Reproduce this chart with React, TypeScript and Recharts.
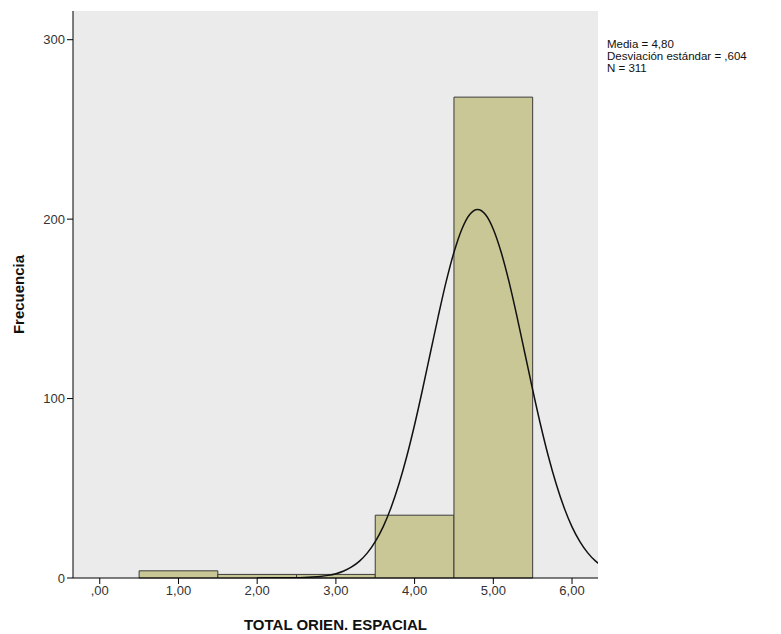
import { ComposedChart, Line, XAxis, YAxis, ReferenceArea, CartesianGrid, Label } from "recharts";

// histogram bins (centre of each bin, width 1)
const binCenters = [1, 2, 3, 4, 5];
const binCounts = [4, 2, 2, 35, 268];

// normal curve
const curveX = [
  2.0, 2.5, 2.6, 2.7, 2.8, 2.9, 3.0, 3.1, 3.2, 3.3, 3.4, 3.5, 3.6, 3.7, 3.8, 3.9, 4.0, 4.1, 4.2, 4.3, 4.4, 4.5,
  4.6, 4.7, 4.8, 4.9, 5.0, 5.1, 5.2, 5.3, 5.4, 5.5, 5.6, 5.7, 5.8, 5.9, 6.0, 6.1, 6.2, 6.3, 6.34,
];
const curveY = [
  0, 0.15, 0.27, 0.49, 0.85, 1.46, 2.42, 3.91, 6.15, 9.4, 14.0, 20.3, 28.5, 39.1, 52.2, 67.7, 85.4, 104.9, 125.4,
  145.8, 165.0, 181.5, 194.4, 202.6, 205.4, 202.6, 194.4, 181.5, 165.0, 145.8, 125.4, 104.9, 85.4, 67.7, 52.2, 39.1,
  28.5, 20.3, 14.0, 9.4, 8.0,
];

const xTicks = [0, 1, 2, 3, 4, 5, 6];
const yTicks = [0, 100, 200, 300];
const statsLines = ["Media = 4,80", "Desviación estándar = ,604", "N = 311"];

const curveData = curveX.map((x, i) => ({ x, y: curveY[i] }));

const FONT = "'Liberation Sans', Arial, sans-serif";
const fmtX = (v: number) => (v === 0 ? ",00" : v.toFixed(2).replace(".", ","));

export default function App() {
  return (
    <div style={{ position: "absolute", left: 0, top: 0, width: 781, height: 634, background: "#fff", fontFamily: FONT }}>
      <ComposedChart width={781} height={634} data={curveData} margin={{ top: 11, right: 183, bottom: 0, left: 0 }}>
        <CartesianGrid horizontal={false} vertical={false} fill="#ebebeb" />
        <XAxis
          dataKey="x"
          type="number"
          domain={[-0.34, 6.33]}
          ticks={xTicks}
          tickFormatter={fmtX}
          allowDataOverflow
          height={56}
          stroke="#000"
          tickSize={6}
          tick={{ fill: "#333", fontSize: 13, fontFamily: FONT }}
        >
          <Label
            value="TOTAL ORIEN. ESPACIAL"
            position="insideBottom"
            offset={4}
            style={{ fontWeight: "bold", fontSize: 15, fill: "#111", fontFamily: FONT }}
          />
        </XAxis>
        <XAxis xAxisId="top" orientation="top" type="number" domain={[-0.34, 6.33]} height={0} tick={false} tickLine={false} stroke="#999" />
        <YAxis
          type="number"
          domain={[0, 316]}
          ticks={yTicks}
          allowDataOverflow
          width={73}
          stroke="#000"
          tickSize={6}
          tick={{ fill: "#333", fontSize: 13, fontFamily: FONT }}
        >
          <Label
            value="Frecuencia"
            angle={-90}
            position="center"
            dx={-18}
            style={{ fontWeight: "bold", fontSize: 15, fill: "#111", fontFamily: FONT, textAnchor: "middle" }}
          />
        </YAxis>
        <YAxis yAxisId="right" orientation="right" domain={[0, 316]} width={0} tick={false} tickLine={false} stroke="#444" />
        {binCenters.map((c, i) => (
          <ReferenceArea
            key={c}
            x1={c - 0.5}
            x2={c + 0.5}
            y1={0}
            y2={binCounts[i]}
            fill="#c8c795"
            fillOpacity={1}
            stroke="#3c3c3c"
            strokeWidth={1}
          />
        ))}
        <Line type="monotone" dataKey="y" stroke="#111" strokeWidth={1.5} dot={false} isAnimationActive={false} />
      </ComposedChart>
      <div style={{ position: "absolute", left: 607, top: 38, fontSize: 11.5, lineHeight: "12px", color: "#111" }}>
        {statsLines.map((s) => (
          <div key={s} style={{ height: 12, whiteSpace: "nowrap" }}>{s}</div>
        ))}
      </div>
    </div>
  );
}
